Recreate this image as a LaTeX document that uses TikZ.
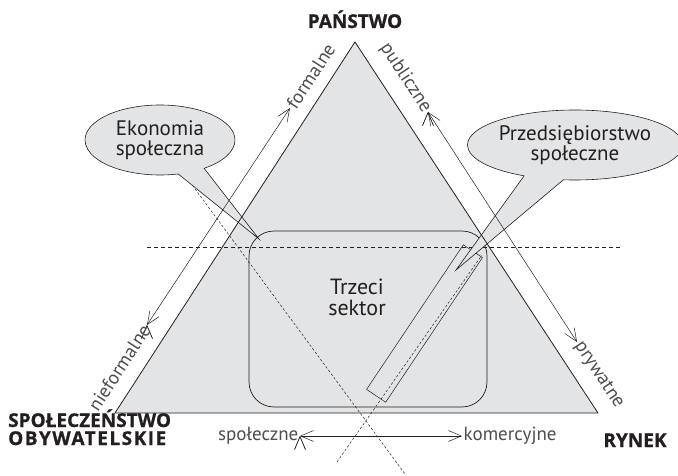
\documentclass[tikz,border=0pt]{standalone}
\usepackage{fontspec}
\setmainfont{PT Sans}
\newfontfamily\headfont[FakeBold=0.8]{Open Sans}
\usepackage{tikz}
\usetikzlibrary{arrows.meta,shapes.callouts}
\definecolor{triColor}{HTML}{E3E4E5}
\definecolor{txtColor}{HTML}{231F20}
\definecolor{labColor}{HTML}{4D4D4F}
\tikzset{
	bubble/.style={ellipse callout, draw=txtColor, fill=triColor, line width=0.6pt,
		inner sep=0pt, align=center, text=txtColor, callout pointer arc=22,
		font=\fontsize{21}{20}\selectfont},
	axis/.style={draw=txtColor, line width=0.5pt, <->},
	guide/.style={draw=txtColor, line width=0.5pt, dash pattern=on 2.5pt off 2pt},
	axis lab/.style={font=\fontsize{19}{19}\selectfont, text=labColor, inner sep=1.5pt},
	head/.style={font=\headfont\bfseries\fontsize{19}{18}\selectfont, text=txtColor,
		align=left, inner sep=0pt}
}

\begin{document}
\begin{tikzpicture}[x=1pt, y=-1pt, >={Straight Barb[length=13pt,width=11pt]}]
	\useasboundingbox (0,0) rectangle (678,476);
	\coordinate (pa) at (355,42);
	\coordinate (so) at (115,413);
	\coordinate (ry) at (598,413);
	\fill[triColor] (pa) -- (so) -- (ry) -- cycle;
	
	\node[draw=txtColor, line width=0.7pt, rounded corners=25pt, minimum width=238pt,
		minimum height=176pt] (sector) at (368,319) {};
	\node[align=center, text=txtColor, font=\fontsize{22}{21}\selectfont] (sectorlab) at (357,297) {Trzeci\\sektor};
	\node[draw=txtColor, line width=0.5pt, rotate=56.2, minimum width=174pt, minimum height=23pt,
		inner sep=0pt] (strip) at (424.5,323.5) {};
	
	\coordinate (g1a) at (187,178);
	\coordinate (g1b) at (405,474);
	\coordinate (g2a) at (337,462);
	\coordinate (g2b) at (482,255);
	\coordinate (g3a) at (147,247);
	\coordinate (g3b) at (620,247);
	\path[guide] (g1a) -- (g1b);
	\path[guide] (g2a) -- (g2b);
	\path[guide, dash pattern=on 4pt off 3pt] (g3a) -- (g3b);
	
	\coordinate (tipek) at (259,239);
	\coordinate (tippr) at (456,270);
	\node[bubble, minimum width=150pt, minimum height=70pt, callout absolute pointer=(tipek)] (ekon) at (160,140) {Ekonomia\\społeczna};
	\node[bubble, minimum width=204pt, minimum height=70pt, callout absolute pointer=(tippr)] (przed) at (575,145) {Przedsiębiorstwo\\społeczne};
	
	\draw[txtColor, line width=0.8pt] (pa) -- (so) -- (ry) -- cycle;
	
	\coordinate (nf) at (147,325);
	\coordinate (fo) at (290,108);
	\coordinate (pu) at (428,112);
	\coordinate (pr) at (577,342);
	\coordinate (sp) at (300,436);
	\coordinate (ko) at (462,436);
	\path[axis] (nf) edge (fo);
	\path[axis] (pu) edge (pr);
	\path[axis] (sp) edge (ko);
	\node[axis lab, rotate=57, anchor=west] (formal) at (fo) {formalne};
	\node[axis lab, rotate=57, anchor=east] (nieformal) at (nf) {nieformalne};
	\node[axis lab, rotate=-56.7, anchor=east] (publ) at (pu) {publiczne};
	\node[axis lab, rotate=-56.7, anchor=west] (pryw) at (pr) {prywatne};
	\node[axis lab, anchor=east] (spol) at (sp) {społeczne};
	\node[axis lab, anchor=west] (kom) at (ko) {komercyjne};
	
	\node[head, anchor=base] (panstwo) at (355,28) {PAŃSTWO};
	\node[head, anchor=base west] (obyw) at (8,445) {SPOŁECZEŃSTWO\\{\addfontfeature{LetterSpace=8}OBYWATELSKIE}};
	\node[head, anchor=base] (rynek) at (635,447) {RYNEK};
\end{tikzpicture}
\end{document}
